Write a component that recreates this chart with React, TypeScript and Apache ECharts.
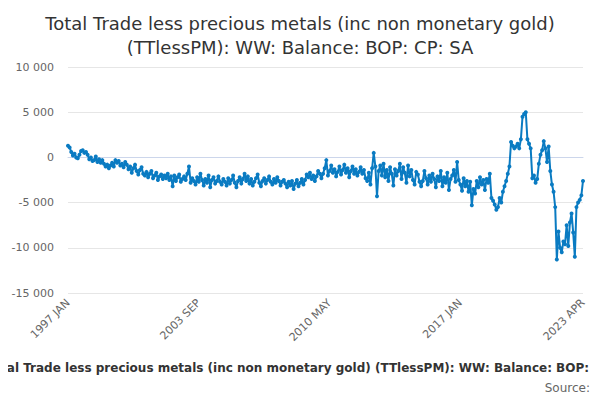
import React, { useEffect, useRef } from 'react';
import * as echarts from 'echarts';

const years = Array.from({ length: 27 }, (_, i) => 1997 + i);
const months = ['JAN', 'FEB', 'MAR', 'APR', 'MAY', 'JUN', 'JUL', 'AUG', 'SEP', 'OCT', 'NOV', 'DEC'];
const categories: string[] = [];
years.forEach((y) => months.forEach((m) => categories.push(`${y} ${m}`)));
categories.length = 316;

const balance = [
  1300, 1100, 600, 200, 400, 0, -100, 300, 700, 800, 500, 600,
  300, -200, 0, -400, -300, 100, -500, -200, -600, -300, -700, -1000,
  -800, -1200, -900, -600, -1000, -300, -600, -400, -900, -700, -1100, -500,
  -800, -1300, -1000, -1700, -1200, -800, -1500, -1900, -1400, -1100, -1800, -2000,
  -1600, -2200, -1800, -1500, -2300, -2000, -1700, -2500, -2100, -1900, -2400, -2000,
  -2300, -1800, -2500, -2100, -3200, -2000, -2600, -2200, -1900, -2700, -2400, -2100,
  -2500, -1800, -1000, -2800, -2300, -2600, -3000, -2200, -2700, -1800, -2500, -3100,
  -2400, -2800, -2000, -3300, -2500, -2200, -2900, -2600, -2100, -2700, -3000, -2400,
  -2700, -3100, -2300, -2900, -2500, -2000, -2800, -3300, -2600, -2200, -2900, -2400,
  -1800, -2600, -2100, -2900, -2400, -3100, -2700, -2300, -1900, -2800, -3200, -2600,
  -2300, -2900, -2500, -2100, -2700, -3000, -2400, -2800, -2200, -2600, -3100, -2700,
  -2500, -2900, -3300, -2700, -3100, -2600, -3500, -2900, -2500, -3200, -2800, -2400,
  -3000, -2500, -1900, -2200, -1700, -2400, -2000, -2600, -2100, -1500, -1800, -2300,
  -1800, -1200, -300, -2000, -1500, -900, -1700, -1300, -2100, -1600, -1000, -1900,
  -1400, -800, -1700, -1200, -2200, -1500, -1000, -1800, -1300, -2000, -1600, -1100,
  -1800, -1400, -2300, -2600, -1700, -3000, -1200, 500, -1000, -4300, -1500, -900,
  -2000, -700, -2200, -1400, -2600, -1100, -1800, -3100, -1300, -2000, -1500, -700,
  -2400, -1100, -1700, -2800, -900, -2100, -1400, -2500, -3000, -1600, -1900, -2700,
  -3200, -2600, -1500, -2300, -3000, -2000, -2700, -1800, -2400, -3300, -2100, -2600,
  -1500, -3200, -2200, -2800, -1700, -3600, -2400, -2000, -1400, -2700, -500, -2500,
  -3000, -3700, -2300, -3200, -2600, -3800, -2700, -5300, -3500, -4000, -2600, -3300,
  -2200, -3000, -2500, -3600, -2400, -2800, -1800, -4500, -4800, -5200, -5800, -5500,
  -4500, -5000, -3800, -3200, -2600, -1800, -1000, 1700, 1300, 1000, 1200, 1500,
  1000, 2000, 4500, 4800, 5000, 2000, 1500, 1000, -2300, -2000, -2800, -2400,
  -700, 300, 800, 1800, 1000, -500, 1200, -1500, -3000, -3800, -5500, -11300,
  -8200, -10000, -10500, -9300, -9600, -7500, -9800, -7200, -6200, -8300, -11000, -5500,
  -5000, -4700, -4200, -2600,
];

const yTicks = [-15000, 10000, 5000];
const title = 'Total Trade less precious metals (inc non monetary gold)\n(TTlessPM): WW: Balance: BOP: CP: SA';
const seriesName = 'Total Trade less precious metals (inc non monetary gold) (TTlessPM): WW: Balance: BOP: CP: SA';

const fmt = (v: number) => {
  const s = Math.abs(v).toString().replace(/\B(?=(\d{3})+(?!\d))/g, ' ');
  return (v < 0 ? '-' : '') + s;
};

const App: React.FC = () => {
  const ref = useRef<HTMLDivElement>(null);

  useEffect(() => {
    if (!ref.current) return;
    const chart = echarts.init(ref.current, undefined, { renderer: 'svg' });
    const font = '"DejaVu Sans", Verdana, sans-serif';
    chart.setOption({
      animation: false,
      textStyle: { fontFamily: font },
      title: {
        text: title,
        left: 'center',
        top: 6,
        textStyle: { fontSize: 18, fontWeight: 'normal', color: '#333', lineHeight: 24, fontFamily: font },
      },
      grid: { left: 68, right: 17, top: 67, bottom: 107 },
      xAxis: {
        type: 'category',
        data: categories,
        boundaryGap: false,
        axisLine: { lineStyle: { color: '#ccd6eb' } },
        axisTick: { show: false },
        axisLabel: {
          rotate: 45,
          color: '#666',
          fontSize: 11,
          interval: (i: number) => i % 80 === 0 || i === 315,
        },
      },
      yAxis: {
        type: 'value',
        min: yTicks[0],
        max: yTicks[1],
        interval: yTicks[2],
        axisLine: { show: false },
        axisTick: { show: false },
        axisLabel: { color: '#666', fontSize: 11, formatter: fmt, margin: 14 },
        splitLine: { lineStyle: { color: '#e6e6e6' } },
      },
      series: [
        {
          name: seriesName,
          type: 'line',
          data: balance,
          symbol: 'circle',
          symbolSize: 4,
          showSymbol: true,
          showAllSymbol: true,
          lineStyle: { color: '#0a7bc2', width: 2 },
          itemStyle: { color: '#0a7bc2' },
        },
      ],
      graphic: [
        {
          type: 'text',
          x: 312,
          y: 362,
          style: {
            text: seriesName,
            fontSize: 12,
            fontWeight: 'bold',
            fill: '#333',
            fontFamily: font,
            textAlign: 'center',
          },
        },
        {
          type: 'text',
          right: 10,
          top: 382,
          style: { text: 'Source:', fontSize: 12, fill: '#666', fontFamily: font },
        },
      ],
    });
    return () => chart.dispose();
  }, []);

  return <div ref={ref} style={{ width: 600, height: 400, margin: -8 }} />;
};

export default App;
